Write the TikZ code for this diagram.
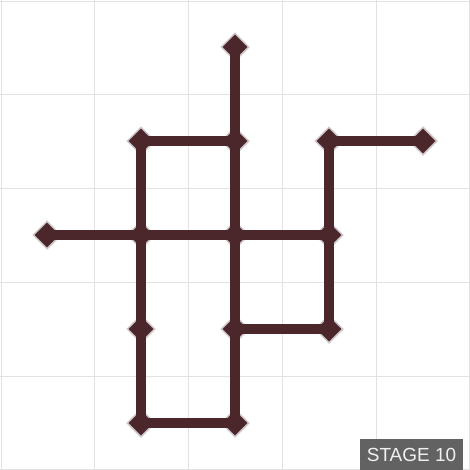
\documentclass[tikz,border=0pt]{standalone}
\usepackage{fontspec}
\setmainfont{Liberation Sans}
\usetikzlibrary{shapes.geometric}
\pgfdeclarelayer{background}
\pgfdeclarelayer{foreground}
\pgfsetlayers{background,main,foreground}
\definecolor{wire}{RGB}{75,38,43}
\definecolor{rim}{RGB}{205,198,200}
\definecolor{gridc}{RGB}{226,226,226}
\definecolor{tagbg}{RGB}{98,98,98}
\definecolor{tagfg}{RGB}{240,240,240}
\begin{document}
\begin{tikzpicture}[x=0.02cm,y=-0.02cm,
  junction/.style={diamond, minimum size=0.56cm, inner sep=0pt, fill=wire, draw=rim, line width=0.03cm},
  rimline/.style={draw=rim, line width=0.23cm},
  coreline/.style={draw=wire, line width=0.19cm},
  gridline/.style={draw=gridc, line width=0.02cm},
  tag/.style={fill=tagbg, text=tagfg, inner sep=0pt, font=\fontsize{10.8pt}{12pt}\selectfont}]
\useasboundingbox (0,0) rectangle (470,470);
\fill[white] (0,0) rectangle (470,470);
\foreach \t in {1,94,188,282,376,469} {
  \draw[gridline] (\t,0) -- (\t,470);
  \draw[gridline] (0,\t) -- (470,\t);
}
\node[junction] (a) at (235,47) {};
\node[junction] (b) at (141,141) {};
\node[junction] (c) at (235,141) {};
\node[junction] (d) at (329,141) {};
\node[junction] (e) at (423,141) {};
\node[junction] (f) at (47,235) {};
\node[junction] (g) at (141,235) {};
\node[junction] (h) at (235,235) {};
\node[junction] (i) at (329,235) {};
\node[junction] (j) at (141,329) {};
\node[junction] (k) at (235,329) {};
\node[junction] (l) at (329,329) {};
\node[junction] (m) at (141,423) {};
\node[junction] (n) at (235,423) {};
\begin{pgfonlayer}{background}
\foreach \u/\v in {a/c,b/c,b/g,c/h,d/e,d/i,f/g,g/h,h/i,g/j,h/k,i/l,k/l,j/m,m/n,k/n}
  \draw[rimline] (\u.center) -- (\v.center);
\end{pgfonlayer}
\begin{pgfonlayer}{foreground}
\foreach \u/\v in {a/c,b/c,b/g,c/h,d/e,d/i,f/g,g/h,h/i,g/j,h/k,i/l,k/l,j/m,m/n,k/n}
  \draw[coreline] (\u.center) -- (\v.center);
\end{pgfonlayer}
\fill[tagbg] (360,439) rectangle (463,470);
\node[tag, anchor=center] (stage) at (411.5,455) {STAGE 10};
\end{tikzpicture}
\end{document}
